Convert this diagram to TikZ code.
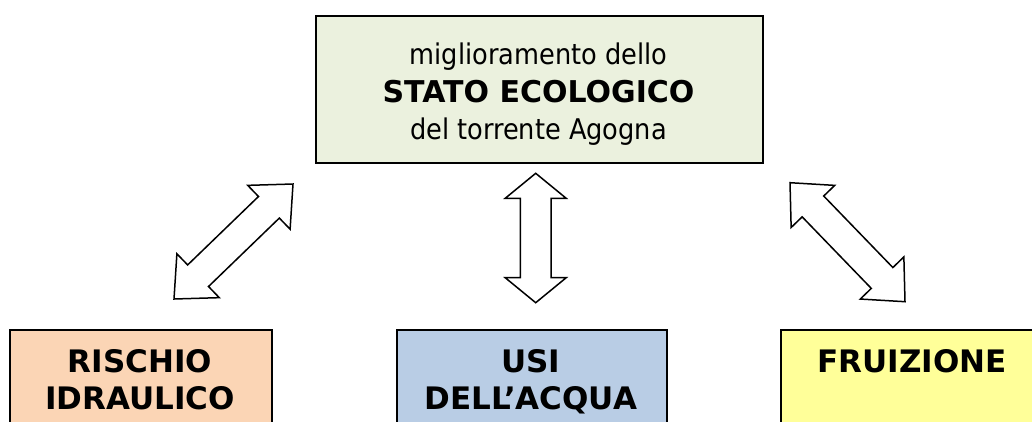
\documentclass[tikz,border=0pt]{standalone}
\usepackage{fontspec}
\setmainfont{DejaVu Sans Condensed}[BoldFont=DejaVu Sans Bold]
\usetikzlibrary{calc}
\definecolor{topgreen}{HTML}{EBF1DE}
\definecolor{peach}{HTML}{FBD5B5}
\definecolor{paleblue}{HTML}{B9CDE5}
\definecolor{paleyellow}{HTML}{FFFF99}
\tikzset{
  box/.style={draw=black, line width=2pt, inner sep=0pt, rectangle},
  boxtext/.style={align=center, inner sep=0pt, anchor=north, font=\fontsize{31}{37}\selectfont\bfseries},
  toptextstyle/.style={align=center, inner sep=0pt, anchor=north, font=\fontsize{28.5}{37.5}\selectfont},
  blockarrow/.style={draw=black, fill=white, line width=1.5pt, line join=miter},
}
\newcommand\dblarrow[5]{%
  \draw[blockarrow] (#1)
    -- ($(#1)!#3!(#2)!#4!90:(#2)$)
    -- ($(#1)!#3!(#2)!#5!90:(#2)$)
    -- ($(#2)!#3!(#1)!#5!-90:(#1)$)
    -- ($(#2)!#3!(#1)!#4!-90:(#1)$)
    -- (#2)
    -- ($(#2)!#3!(#1)!#4!90:(#1)$)
    -- ($(#2)!#3!(#1)!#5!90:(#1)$)
    -- ($(#1)!#3!(#2)!#5!-90:(#2)$)
    -- ($(#1)!#3!(#2)!#4!-90:(#2)$)
    -- cycle;}
\begin{document}
\begin{tikzpicture}[x=1pt, y=-1pt]
\useasboundingbox (0,0) rectangle (1032,421);
% top box
\node[box, fill=topgreen, minimum width=447pt, minimum height=147pt, anchor=north west] (top) at (315,15) {};
\node[toptextstyle] (toptext) at (538.5,43) {miglioramento dello\\{\fontsize{30}{37.5}\selectfont\bfseries STATO ECOLOGICO}\\del torrente Agogna};
% bottom boxes
\node[box, fill=peach, minimum width=262pt, minimum height=130pt, anchor=north west] (rischio) at (9,329) {};
\node[boxtext] (rischiotext) at (140,349) {RISCHIO\\IDRAULICO};
\node[box, fill=paleblue, minimum width=270pt, minimum height=130pt, anchor=north west] (usi) at (396,329) {};
\node[boxtext] (usitext) at (531,349) {USI\\DELL’ACQUA};
\node[box, fill=paleyellow, minimum width=262pt, minimum height=130pt, anchor=north west] (fruizione) at (780,329) {};
\node[boxtext] (fruiziontext) at (912,349) {FRUIZIONE};
% arrows
\coordinate (la) at (174,299);
\coordinate (lb) at (293,184);
\coordinate (ma) at (535.7,302.7);
\coordinate (mb) at (535.7,173.3);
\coordinate (ra) at (790,182.7);
\coordinate (rb) at (905,301.7);
\dblarrow{la}{lb}{33.5pt}{30.5pt}{15pt}
\dblarrow{ma}{mb}{25pt}{30.5pt}{15.3pt}
\dblarrow{ra}{rb}{33pt}{30.3pt}{15pt}
\end{tikzpicture}
\end{document}
